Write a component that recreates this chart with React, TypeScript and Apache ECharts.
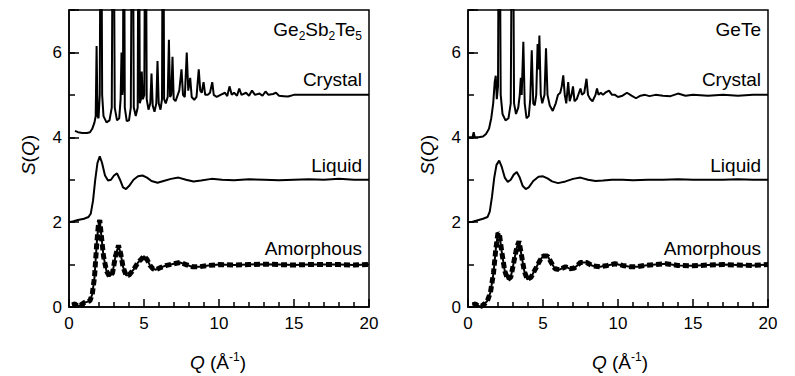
import React, { useEffect, useRef } from "react";
import * as echarts from "echarts";

// ---- Data: S(Q) curves, [Q, S] ----
const gstCrystal: number[][] = [
  [0.4, 4.15], [0.6, 4.12], [0.9, 4.1], [1.2, 4.1], [1.4, 4.12], [1.55, 4.2], [1.7, 4.35], [1.78, 4.5], [1.84, 6.15], [1.9, 4.5],
  [1.97, 4.45], [2.05, 5.0], [2.13, 12], [2.21, 5.0], [2.3, 4.5], [2.5, 4.35], [2.7, 4.4], [2.85, 4.7], [2.95, 12], [3.05, 4.7],
  [3.2, 4.4], [3.35, 4.45], [3.44, 4.9], [3.5, 6.0], [3.56, 5.0], [3.6, 5.2], [3.65, 12], [3.72, 4.7], [3.85, 4.38], [4.0, 4.4],
  [4.12, 4.7], [4.23, 12], [4.32, 4.7], [4.45, 4.5], [4.58, 4.7], [4.65, 12], [4.72, 4.8], [4.8, 4.9], [4.85, 5.55], [4.92, 4.9],
  [5.02, 5.0], [5.1, 12], [5.18, 4.9], [5.3, 4.65], [5.42, 4.8], [5.5, 5.5], [5.58, 4.75], [5.7, 4.6], [5.82, 4.8], [5.9, 5.8],
  [5.98, 4.8], [6.1, 4.65], [6.2, 4.9], [6.27, 12], [6.34, 4.9], [6.45, 4.8], [6.58, 4.95], [6.66, 6.3], [6.74, 4.95], [6.82, 5.0],
  [6.9, 5.9], [6.98, 4.9], [7.1, 4.85], [7.25, 5.0], [7.35, 5.1], [7.5, 5.6], [7.6, 5.0], [7.72, 4.95], [7.85, 6.0], [7.95, 5.1],
  [8.08, 5.4], [8.18, 4.95], [8.35, 4.88], [8.5, 4.95], [8.65, 5.6], [8.75, 5.1], [8.85, 5.05], [8.97, 5.3], [9.08, 5.0], [9.25, 5.0],
  [9.4, 5.05], [9.55, 5.3], [9.65, 5.0], [9.85, 4.95], [10.1, 5.0], [10.4, 5.05], [10.55, 4.97], [10.7, 5.2], [10.85, 5.0], [11.0, 5.05],
  [11.2, 4.98], [11.35, 5.15], [11.5, 5.0], [11.8, 5.05], [12.0, 4.98], [12.2, 5.1], [12.4, 5.0], [12.7, 5.03], [12.9, 4.98], [13.1, 5.08],
  [13.3, 5.0], [13.6, 5.02], [13.8, 5.05], [14.0, 4.98], [14.3, 4.97], [14.6, 4.96], [15.0, 5.0], [16, 5.0], [17, 5.0], [18, 5.0],
  [19, 5.0], [20, 5.0],
];

const gstLiquid: number[][] = [
  [0.0, 2.0], [0.3, 2.02], [0.6, 2.05], [1.0, 2.08], [1.3, 2.12], [1.45, 2.2], [1.6, 2.5], [1.75, 3.0], [1.9, 3.4], [2.05, 3.55],
  [2.2, 3.4], [2.4, 3.1], [2.6, 2.98], [2.8, 3.0], [3.0, 3.1], [3.2, 3.15], [3.4, 3.0], [3.6, 2.82], [3.8, 2.78], [4.0, 2.85],
  [4.3, 3.0], [4.6, 3.08], [4.9, 3.1], [5.2, 3.05], [5.5, 2.97], [5.9, 2.93], [6.3, 2.97], [6.8, 3.02], [7.3, 3.05], [7.8, 3.0],
  [8.3, 2.96], [8.8, 2.98], [9.5, 3.02], [10.2, 3.0], [11, 2.99], [12, 3.01], [13, 3.0], [14, 2.99], [15, 3.0], [16, 3.01],
  [17, 3.0], [18, 3.02], [19, 3.0], [20, 3.0],
];

const gstAmorphous: number[][] = [
  [0.2, 0.05], [0.4, 0.07], [0.6, 0.02], [0.8, 0.05], [1.0, 0.1], [1.2, 0.12], [1.4, 0.15], [1.55, 0.3], [1.7, 0.7], [1.85, 1.5],
  [1.95, 1.9], [2.05, 2.05], [2.15, 1.7], [2.3, 1.2], [2.5, 0.85], [2.7, 0.72], [2.9, 0.8], [3.1, 1.2], [3.3, 1.45], [3.45, 1.25],
  [3.6, 0.95], [3.8, 0.75], [4.0, 0.75], [4.3, 0.88], [4.6, 1.05], [4.8, 1.12], [5.0, 1.2], [5.2, 1.12], [5.4, 0.98], [5.6, 0.9],
  [5.8, 0.88], [6.1, 0.93], [6.5, 0.98], [7.0, 1.02], [7.4, 1.05], [7.8, 1.0], [8.2, 0.95], [8.7, 0.95], [9.3, 0.98], [10, 1.0],
  [11, 0.99], [12, 1.0], [13, 1.01], [14, 1.0], [15, 0.99], [16, 1.0], [17, 1.0], [18, 1.0], [19, 0.99], [20, 1.0],
];

const geteCrystal: number[][] = [
  [0.0, 4.0], [0.3, 4.0], [0.38, 4.12], [0.45, 4.0], [0.7, 4.0], [1.0, 4.02], [1.2, 4.08], [1.4, 4.2], [1.55, 4.45], [1.68, 4.8],
  [1.78, 5.3], [1.85, 5.45], [1.92, 4.9], [2.0, 5.2], [2.08, 12], [2.18, 5.0], [2.3, 4.55], [2.5, 4.4], [2.7, 4.45], [2.85, 4.8],
  [2.97, 12], [3.07, 4.8], [3.2, 4.55], [3.35, 4.7], [3.45, 5.0], [3.52, 5.4], [3.58, 5.0], [3.69, 6.25], [3.78, 4.8], [3.9, 4.45],
  [4.05, 4.5], [4.15, 4.9], [4.25, 6.05], [4.35, 4.8], [4.45, 4.75], [4.55, 5.0], [4.64, 6.2], [4.7, 5.6], [4.76, 6.4], [4.85, 5.0],
  [4.95, 4.8], [5.1, 5.0], [5.2, 6.1], [5.3, 5.0], [5.45, 4.75], [5.65, 4.62], [5.85, 4.8], [6.0, 5.0], [6.15, 5.05], [6.25, 5.2],
  [6.35, 5.46], [6.45, 5.0], [6.55, 4.8], [6.68, 5.3], [6.78, 4.85], [6.9, 5.0], [7.0, 5.2], [7.1, 4.85], [7.25, 4.9], [7.5, 5.15],
  [7.6, 5.0], [7.75, 5.05], [7.9, 5.38], [8.0, 5.0], [8.15, 4.9], [8.3, 4.85], [8.5, 5.0], [8.6, 5.15], [8.7, 5.0], [8.85, 5.05],
  [9.0, 5.0], [9.15, 5.05], [9.4, 5.1], [9.6, 5.0], [9.8, 5.0], [10.0, 4.95], [10.3, 4.98], [10.6, 5.05], [10.9, 4.98], [11.2, 4.92],
  [11.5, 4.98], [11.8, 5.0], [12.1, 4.97], [12.5, 5.0], [13.0, 4.98], [13.5, 4.97], [14.0, 5.03], [14.5, 4.98], [15.0, 5.0], [16, 4.98],
  [17, 5.0], [18, 4.98], [19, 5.0], [20, 5.0],
];

const geteLiquid: number[][] = [
  [0.0, 2.0], [0.3, 2.01], [0.6, 2.04], [1.0, 2.08], [1.3, 2.12], [1.45, 2.25], [1.6, 2.6], [1.75, 3.05], [1.9, 3.35], [2.08, 3.45],
  [2.25, 3.3], [2.45, 3.05], [2.65, 2.95], [2.85, 3.0], [3.05, 3.12], [3.25, 3.18], [3.45, 3.05], [3.65, 2.85], [3.85, 2.78], [4.05, 2.82],
  [4.35, 2.97], [4.7, 3.07], [5.0, 3.08], [5.3, 3.03], [5.6, 2.96], [6.0, 2.92], [6.5, 2.96], [7.0, 3.02], [7.5, 3.05], [8.0, 3.0],
  [8.5, 2.97], [9.0, 2.98], [9.6, 3.0], [10.3, 3.0], [11, 2.99], [12, 3.0], [13, 3.0], [14, 3.01], [15, 3.0], [16, 3.0],
  [17, 3.0], [18, 3.01], [19, 3.0], [20, 3.0],
];

const geteAmorphous: number[][] = [
  [0.3, 0.05], [0.5, 0.07], [0.7, 0.02], [0.9, 0.02], [1.1, 0.07], [1.3, 0.15], [1.5, 0.35], [1.7, 0.8], [1.85, 1.35], [2.0, 1.75],
  [2.1, 1.7], [2.25, 1.3], [2.45, 0.85], [2.65, 0.65], [2.85, 0.7], [3.05, 1.05], [3.25, 1.4], [3.4, 1.55], [3.55, 1.25], [3.75, 0.85],
  [3.95, 0.65], [4.2, 0.7], [4.5, 0.9], [4.8, 1.1], [5.0, 1.2], [5.3, 1.2], [5.55, 1.05], [5.8, 0.9], [6.1, 0.88], [6.5, 0.95],
  [6.8, 0.9], [7.1, 0.92], [7.5, 1.05], [7.9, 1.05], [8.3, 0.97], [8.8, 0.95], [9.3, 0.98], [9.8, 1.02], [10.3, 0.98], [10.8, 0.95],
  [11.3, 0.95], [11.8, 0.98], [12.5, 1.0], [13.2, 1.02], [14, 0.98], [15, 0.97], [16, 0.99], [17, 1.0], [18, 0.99], [19, 0.98],
  [20, 1.0],
];

const curveLabels = ["Crystal", "Liquid", "Amorphous"];
const xTitle = "{i|Q} (Å{sup|-1})";
const yTitle = "{i|S}({i|Q})";
const leftTitle = "{a|Ge}{s|2}{a|Sb}{s|2}{a|Te}{s|5}";
const rightTitle = "{a|GeTe}";

const FONT = '"Liberation Sans", Arial, Helvetica, sans-serif';

export default function App() {
  const ref = useRef<HTMLDivElement>(null);

  useEffect(() => {
    const chart = echarts.init(ref.current!, null, { renderer: "svg" });
    const black = "#000";

    const grids = [
      { left: 69, top: 10, width: 300, height: 297 },
      { left: 468, top: 10, width: 300, height: 297 },
    ];

    const xAxes = [0, 1].map((gi) => ({
      type: "value",
      gridIndex: gi,
      min: 0,
      max: 20,
      interval: 5,
      axisLine: { show: true, onZero: false, lineStyle: { color: black, width: 1.5 } },
      axisTick: { show: true, inside: true, length: 8, lineStyle: { color: black, width: 1.5 } },
      minorTick: { show: true, splitNumber: 5, length: 5, lineStyle: { color: black, width: 1.5 } },
      splitLine: { show: false },
      axisLabel: { color: black, fontSize: 17, fontFamily: FONT, margin: 8 },
    }));

    const yAxes: any[] = [];
    [0, 1].forEach((gi) => {
      yAxes.push({
        type: "value",
        gridIndex: gi,
        position: "left",
        min: 0,
        max: 7,
        interval: 1,
        axisLine: { show: true, onZero: false, lineStyle: { color: black, width: 1.5 } },
        axisTick: { show: true, inside: true, length: 6, lineStyle: { color: black, width: 1.5 } },
        splitLine: { show: false },
        axisLabel: {
          color: black,
          fontSize: 17,
          fontFamily: FONT,
          margin: 7,
          formatter: (v: number) => (v % 2 === 0 ? String(v) : ""),
        },
      });
      yAxes.push({
        type: "value",
        gridIndex: gi,
        position: "left",
        offset: 0,
        min: 0,
        max: 7,
        interval: 2,
        axisLine: { show: false },
        axisTick: { show: true, inside: true, length: 10, lineStyle: { color: black, width: 1.5 } },
        splitLine: { show: false },
        axisLabel: { show: false },
      });
    });

    const line = (data: number[][], gi: number, width: number, type: any = "solid") => ({
      type: "line",
      xAxisIndex: gi,
      yAxisIndex: gi * 2,
      data,
      showSymbol: false,
      symbol: "none",
      clip: true,
      lineStyle: { color: black, width, type },
      silent: true,
    });

    const series = [
      line(gstCrystal, 0, 2),
      line(gstLiquid, 0, 2),
      line(gstAmorphous, 0, 5, [6, 3]),
      line(gstAmorphous, 0, 2),
      line(geteCrystal, 1, 2),
      line(geteLiquid, 1, 2),
      line(geteAmorphous, 1, 5, [6, 3]),
      line(geteAmorphous, 1, 2),
    ];

    const labelFont = { fontSize: 19, fontFamily: FONT, fill: black };
    const richTitle = {
      a: { fontSize: 19, fontFamily: FONT, lineHeight: 26, verticalAlign: "middle" },
      s: { fontSize: 12, fontFamily: FONT, lineHeight: 12, verticalAlign: "bottom" },
    };
    const richAxis = {
      i: { fontSize: 19, fontFamily: FONT, fontStyle: "italic", lineHeight: 22 },
      sup: { fontSize: 12, fontFamily: FONT, lineHeight: 12, verticalAlign: "top" },
    };

    const panelText = (rightX: number, title: string, yLabelX: number, xLabelX: number) => [
      {
        type: "text",
        x: rightX,
        y: 29,
        style: { text: title, rich: richTitle, ...labelFont, align: "right", verticalAlign: "middle" },
      },
      ...curveLabels.map((t, k) => ({
        type: "text",
        x: rightX,
        y: [79, 165, 248][k],
        style: { text: t, ...labelFont, align: "right", verticalAlign: "middle" },
      })),
      {
        type: "text",
        x: yLabelX,
        y: 155,
        rotation: Math.PI / 2,
        style: { text: yTitle, rich: richAxis, ...labelFont, align: "center", verticalAlign: "middle" },
      },
      {
        type: "text",
        x: xLabelX,
        y: 362,
        style: { text: xTitle, rich: richAxis, ...labelFont, align: "center", verticalAlign: "middle" },
      },
    ];

    chart.setOption({
      animation: false,
      backgroundColor: "#fff",
      grid: grids.map((g) => ({ ...g, show: true, borderColor: black, borderWidth: 1.5, backgroundColor: "transparent" })),
      xAxis: xAxes,
      yAxis: yAxes,
      series,
      graphic: [...panelText(362, leftTitle, 28, 218), ...panelText(761, rightTitle, 427, 620)],
    });

    return () => chart.dispose();
  }, []);

  return (
    <div
      ref={ref}
      style={{ position: "fixed", left: 0, top: 0, width: 795, height: 376, background: "#fff" }}
    />
  );
}
